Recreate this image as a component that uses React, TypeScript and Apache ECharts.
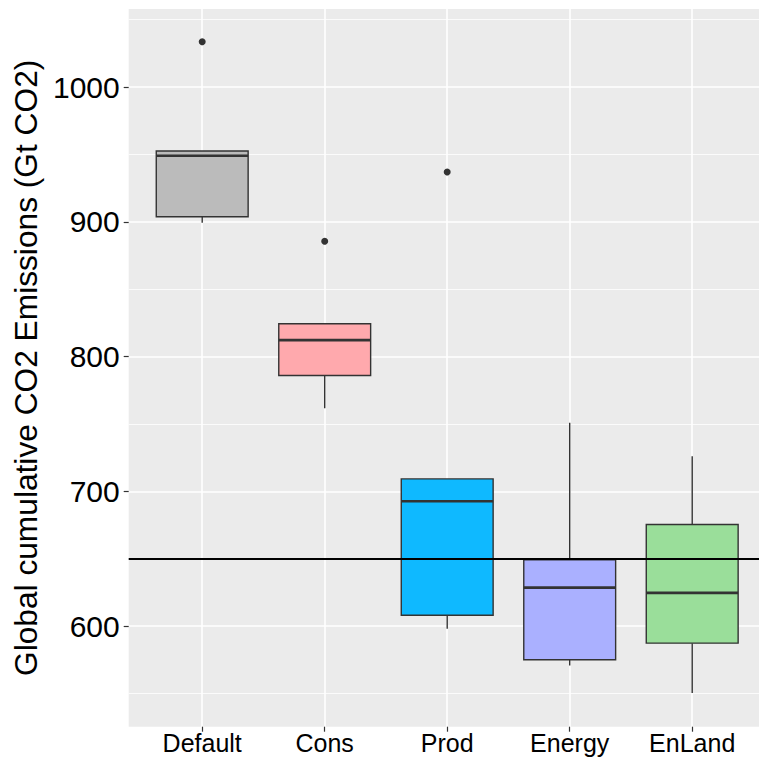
import React, { useEffect, useRef } from 'react';
import * as echarts from 'echarts';

const CATEGORIES = ['Default', 'Cons', 'Prod', 'Energy', 'EnLand'];
const CAT_POS = [1, 2, 3, 4, 5];
const WHISKER_LOW = [899.3, 761.7, 598.0, 570.8, 550.4];
const Q1 = [903.7, 785.9, 608.0, 575.0, 587.3];
const MEDIAN = [949.0, 812.2, 692.6, 628.5, 624.6];
const Q3 = [952.5, 824.3, 709.2, 649.1, 675.3];
const WHISKER_HIGH = [952.5, 824.3, 709.2, 750.8, 726.0];
const FILLS = ['#BBBBBB', '#FFA9AD', '#0FB9FF', '#AAB0FF', '#9ADE9A'];
const OUTLIER_CAT = [1, 2, 3];
const OUTLIER_VAL = [1033.6, 885.5, 936.9];
const Y_TICKS = [600, 700, 800, 900, 1000];
const REFERENCE = 650;
const Y_TITLE = 'Global cumulative CO2 Emissions (Gt CO2)';

const FONT = '"Liberation Sans", Arial, Helvetica, sans-serif';

export default function App() {
  const ref = useRef<HTMLDivElement>(null);
  useEffect(() => {
    document.body.style.margin = '0';
    if (!ref.current) return;
    const chart = echarts.init(ref.current, undefined, { renderer: 'svg' });
    const boxData = CAT_POS.map((x, i) => [x, WHISKER_LOW[i], Q1[i], MEDIAN[i], Q3[i], WHISKER_HIGH[i]]);
    const outliers = OUTLIER_CAT.map((c, i) => [c, OUTLIER_VAL[i]]);
    chart.setOption({
      animation: false,
      backgroundColor: '#FFFFFF',
      grid: {
        left: 128.7,
        top: 9,
        width: 637,
        height: 717.7,
        show: true,
        backgroundColor: '#EBEBEB',
        borderWidth: 0,
        containLabel: false,
        outerBoundsMode: 'none',
      },
      xAxis: {
        type: 'value',
        min: 0.4,
        max: 5.6,
        axisLine: { show: false },
        axisTick: {
          show: true,
          customValues: CAT_POS,
          length: 5,
          lineStyle: { color: '#333333', width: 1.2 },
        },
        axisLabel: {
          customValues: CAT_POS,
          formatter: (v: number) => CATEGORIES[Math.round(v) - 1] ?? '',
          color: '#000000',
          fontSize: 25,
          fontFamily: FONT,
          margin: 4,
        },
        splitLine: { show: true, lineStyle: { color: '#FFFFFF', width: 1.6 } },
      },
      yAxis: {
        type: 'value',
        min: 525.3,
        max: 1057.9,
        name: Y_TITLE,
        nameLocation: 'middle',
        nameRotate: 90,
        nameGap: 77,
        nameTextStyle: { color: '#000000', fontSize: 31.7, fontFamily: FONT },
        axisLine: { show: false },
        axisTick: {
          show: true,
          customValues: Y_TICKS,
          length: 5,
          lineStyle: { color: '#333333', width: 1.2 },
        },
        axisLabel: {
          customValues: Y_TICKS,
          formatter: (v: number) => String(v),
          color: '#000000',
          fontSize: 30,
          fontFamily: FONT,
          margin: 9,
        },
        splitLine: { show: true, lineStyle: { color: '#FFFFFF', width: 1.6 } },
        minorTick: { show: false, splitNumber: 2 },
        minorSplitLine: { show: true, lineStyle: { color: '#FFFFFF', width: 0.8 } },
      },
      series: [
        {
          type: 'custom',
          data: boxData,
          encode: { x: 0, y: [1, 2, 3, 4, 5] },
          z: 2,
          renderItem: (params: any, api: any) => {
            const x = api.value(0);
            const lo = api.coord([x, api.value(1)]);
            const q1 = api.coord([x, api.value(2)]);
            const med = api.coord([x, api.value(3)]);
            const q3 = api.coord([x, api.value(4)]);
            const hi = api.coord([x, api.value(5)]);
            const halfW = api.size([0.75, 0])[0] / 2;
            const stroke = '#333333';
            return {
              type: 'group',
              children: [
                { type: 'line', shape: { x1: lo[0], y1: lo[1], x2: q1[0], y2: q1[1] }, style: { stroke, lineWidth: 1.4 } },
                { type: 'line', shape: { x1: q3[0], y1: q3[1], x2: hi[0], y2: hi[1] }, style: { stroke, lineWidth: 1.4 } },
                {
                  type: 'rect',
                  shape: { x: q3[0] - halfW, y: q3[1], width: 2 * halfW, height: q1[1] - q3[1] },
                  style: { fill: FILLS[params.dataIndex], stroke, lineWidth: 1.4 },
                },
                {
                  type: 'line',
                  shape: { x1: med[0] - halfW, y1: med[1], x2: med[0] + halfW, y2: med[1] },
                  style: { stroke, lineWidth: 2.6 },
                },
              ],
            };
          },
        },
        {
          type: 'scatter',
          data: outliers,
          symbol: 'circle',
          symbolSize: 7,
          itemStyle: { color: '#333333', opacity: 1 },
          z: 3,
        },
        {
          type: 'line',
          data: [],
          z: 4,
          markLine: {
            silent: true,
            symbol: ['none', 'none'],
            label: { show: false },
            lineStyle: { color: '#000000', width: 2.2, type: 'solid' },
            data: [{ yAxis: REFERENCE }],
          },
        },
      ],
    });
    return () => chart.dispose();
  }, []);
  return <div ref={ref} style={{ width: 759, height: 758 }} />;
}
